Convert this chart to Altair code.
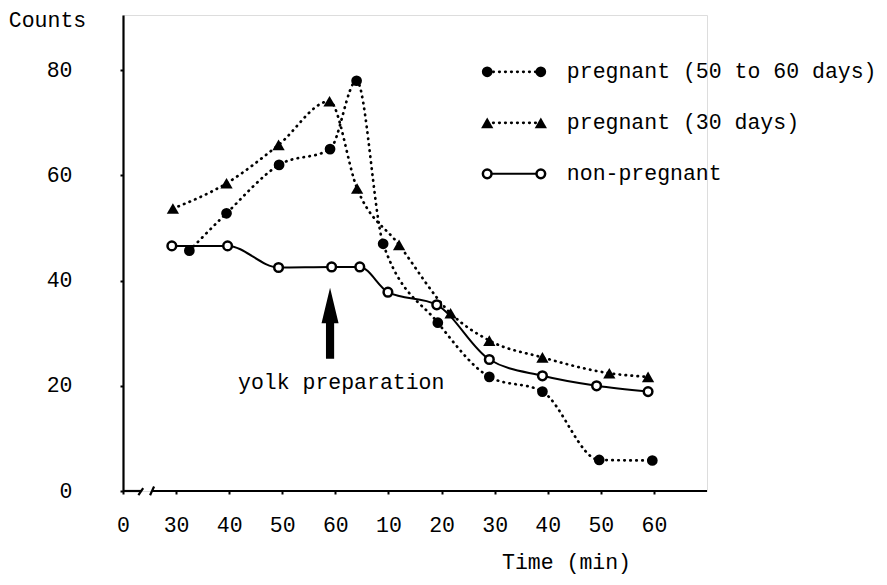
import json
import altair as alt
import pandas as pd

FONT = "Liberation Mono"
FS = 21.5

SERIES = ["pregnant (50 to 60 days)", "pregnant (30 days)", "non-pregnant"]

# broken time axis: position index -> printed label
X_TICK_LABELS = ["0", "30", "40", "50", "60", "10", "20", "30", "40", "50", "60"]
Y_TICKS = [0, 20, 40, 60, 80]

# values (x in tick-index units of the broken axis)
P5060_X = [1.25, 1.95, 2.94, 3.90, 4.40, 4.90, 5.93, 6.90, 7.90, 8.97, 9.97]
P5060_Y = [45.7, 52.8, 62.0, 65.0, 78.0, 47.0, 32.0, 21.7, 18.9, 5.9, 5.8]
P30_X = [0.94, 1.95, 2.93, 3.89, 4.41, 5.20, 6.17, 6.90, 7.90, 9.16, 9.89]
P30_Y = [53.7, 58.5, 65.8, 74.1, 57.5, 46.8, 33.8, 28.6, 25.4, 22.4, 21.7]
NP_X = [0.92, 1.97, 2.93, 3.93, 4.46, 4.99, 5.91, 6.90, 7.90, 8.92, 9.89]
NP_Y = [46.6, 46.6, 42.5, 42.6, 42.6, 37.8, 35.4, 25.0, 21.9, 20.0, 18.9]

ANNOT_TEXT = ["yolk preparation"]
ANNOT_X = [4.11]
ANNOT_Y = [20.5]
ARROW_X = [3.90]
ARROW_Y = [31.9]

LEGEND_Y = [79.7, 70.0, 60.3]
LEGEND_X0 = 6.86
LEGEND_X1 = 7.87
LEGEND_TX = 8.36

# axis break decoration (x axis drawn in two pieces with slashes)
AXIS_SEG_X = [0.0, 0.55]
AXIS_SEG_X2 = [0.34, 11.0]
SLASH_X = [0.29, 0.51]
SLASH_X2 = [0.38, 0.585]
SLASH_Y = [-0.8, -0.8]
SLASH_Y2 = [0.55, 0.85]

rows = []
for s, xs, ys in zip(SERIES, [P5060_X, P30_X, NP_X], [P5060_Y, P30_Y, NP_Y]):
    for x, y in zip(xs, ys):
        rows.append({"series": s, "x": x, "y": y})
df = pd.DataFrame(rows)

leg_rows = []
for s, ly in zip(SERIES, LEGEND_Y):
    for lx in (LEGEND_X0, LEGEND_X1):
        leg_rows.append({"series": s, "x": lx, "y": ly})
leg = pd.DataFrame(leg_rows)
leg_text = pd.DataFrame({"series": SERIES, "x": [LEGEND_TX] * 3, "y": LEGEND_Y})

label_expr = json.dumps(X_TICK_LABELS) + "[datum.value]"

X = alt.X(
    "x:Q",
    scale=alt.Scale(domain=[0, 11], nice=False, zero=False),
    axis=alt.Axis(
        values=list(range(11)), labelExpr=label_expr, domain=False, grid=False,
        ticks=True, tickSize=3, tickWidth=2, tickColor="black",
        labelFont=FONT, labelFontSize=FS, labelColor="black",
        labelBaseline="middle", labelPadding=31, labelFlush=False,
        title="Time (min)", titleFont=FONT, titleFontSize=FS, titleFontWeight="normal",
        titleColor="black", titleX=443, titleY=71, titleAlign="center",
        titleBaseline="middle", titleAnchor="start",
    ),
)
Y = alt.Y(
    "y:Q",
    scale=alt.Scale(domain=[0, 90.5], nice=False),
    axis=alt.Axis(
        values=Y_TICKS, domain=True, domainColor="black", domainWidth=2.2, grid=False,
        ticks=True, tickSize=3, tickWidth=2, tickColor="black",
        labelFont=FONT, labelFontSize=FS, labelColor="black", labelPadding=48,
        title="Counts", titleFont=FONT, titleFontSize=FS, titleFontWeight="normal",
        titleColor="black", titleAngle=0, titleX=-76, titleY=5,
        titleAlign="center", titleBaseline="middle", titleAnchor="start",
    ),
)

DOT = dict(strokeDash=[0.5, 5.5], strokeCap="round", strokeWidth=2.7, color="black")

base = alt.Chart(df)
dotted = base.transform_filter(alt.datum.series != "non-pregnant").mark_line(
    interpolate="monotone", **DOT
).encode(x=X, y=Y, detail="series:N")
solid = base.transform_filter(alt.datum.series == "non-pregnant").mark_line(
    interpolate="monotone", color="black", strokeWidth=2
).encode(x=X, y=Y)

def markers(data):
    b = alt.Chart(data)
    c = b.transform_filter(alt.datum.series == SERIES[0]).mark_point(
        shape="circle", filled=True, color="black", size=115, opacity=1
    ).encode(x=X, y=Y)
    t = b.transform_filter(alt.datum.series == SERIES[1]).mark_point(
        shape="triangle-up", filled=True, color="black", size=150, opacity=1
    ).encode(x=X, y=Y)
    o = b.transform_filter(alt.datum.series == SERIES[2]).mark_point(
        shape="circle", filled=True, fill="white", stroke="black", strokeWidth=2.5,
        size=75, opacity=1
    ).encode(x=X, y=Y)
    return [c, t, o]

leg_base = alt.Chart(leg)
leg_dotted = leg_base.transform_filter(alt.datum.series != "non-pregnant").mark_line(
    **DOT
).encode(x=X, y=Y, detail="series:N")
leg_solid = leg_base.transform_filter(alt.datum.series == "non-pregnant").mark_line(
    color="black", strokeWidth=2
).encode(x=X, y=Y)
leg_labels = alt.Chart(leg_text).mark_text(
    font=FONT, fontSize=FS, align="left", baseline="middle", color="black"
).encode(x=X, y=Y, text="series:N")

annot = alt.Chart(pd.DataFrame({"t": ANNOT_TEXT, "x": ANNOT_X, "y": ANNOT_Y})).mark_text(
    font=FONT, fontSize=FS, align="center", baseline="middle", color="black"
).encode(x=X, y=Y, text="t:N")
arrow = alt.Chart(pd.DataFrame({"x": ARROW_X, "y": ARROW_Y})).mark_point(
    shape="M0,-1L0.24,0L0.115,0L0.115,1L-0.115,1L-0.115,0L-0.24,0Z",
    filled=True, color="black", size=5041, opacity=1, strokeWidth=0
).encode(x=X, y=Y)

axis_seg = alt.Chart(pd.DataFrame({"x": AXIS_SEG_X, "x2": AXIS_SEG_X2, "y": [0, 0]})).mark_rule(
    color="black", strokeWidth=2.2
).encode(x=X, x2="x2:Q", y=Y)
slashes = alt.Chart(pd.DataFrame({"x": SLASH_X, "x2": SLASH_X2, "y": SLASH_Y, "y2": SLASH_Y2})).mark_rule(
    color="black", strokeWidth=2.2
).encode(x=X, x2="x2:Q", y=Y, y2="y2:Q")

chart = alt.layer(
    axis_seg, slashes, solid, dotted, *markers(df),
    leg_solid, leg_dotted, *markers(leg), leg_labels, annot, arrow,
).properties(
    width=584, height=476,
    padding={"left": 115, "top": 7, "right": 172, "bottom": 83},
    autosize=alt.AutoSizeParams(type="none"),
).configure_view(strokeWidth=0).configure(background="white")

chart.save("out.html", embed_options={"renderer": "svg", "actions": False})
